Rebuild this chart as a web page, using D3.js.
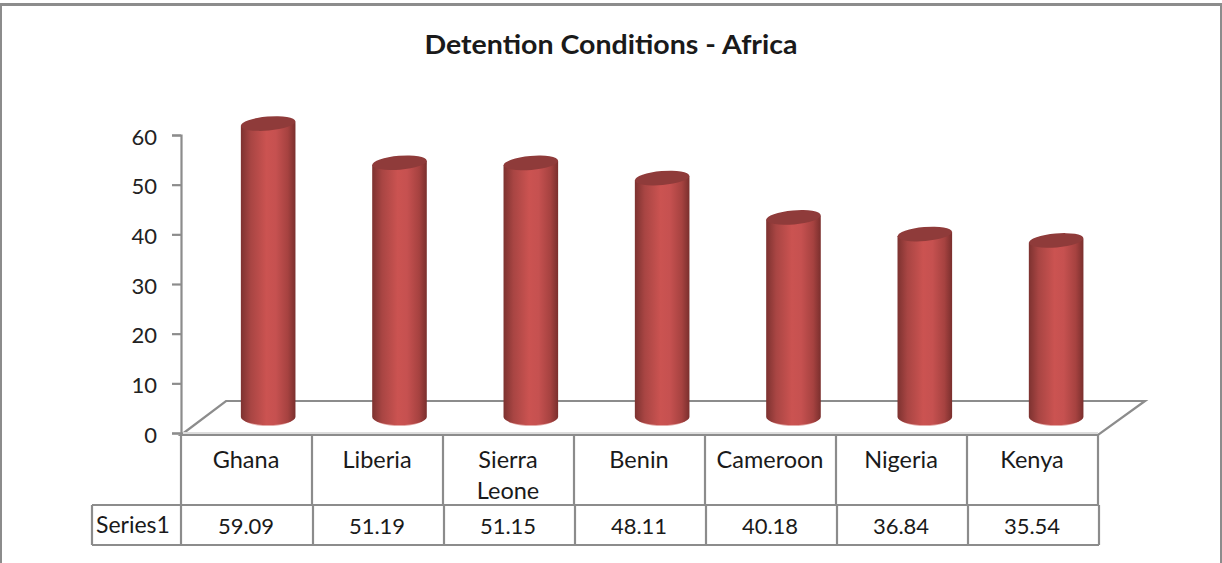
<!DOCTYPE html>
<html><head><meta charset="utf-8">
<script src="https://cdn.jsdelivr.net/npm/d3@7"></script>
<style>html,body{margin:0;padding:0;background:#fff}svg{display:block}text{font-family:Lato,"Open Sans",sans-serif;fill:#1a1a1a}</style>
</head><body><svg id="c" width="1222" height="563"></svg>
<script>
const categories=["Ghana","Liberia","Sierra Leone","Benin","Cameroon","Nigeria","Kenya"];
const categoryLines=[["Ghana"],["Liberia"],["Sierra","Leone"],["Benin"],["Cameroon"],["Nigeria"],["Kenya"]];
const values=[59.09,51.19,51.15,48.11,40.18,36.84,35.54];
const valueLabels=["59.09","51.19","51.15","48.11","40.18","36.84","35.54"];
const yTicks=[0,10,20,30,40,50,60];
const seriesName="Series1";
const titleText="Detention Conditions - Africa";

const grey="#8c8c8c";
const svg=d3.select("#c");
const defs=svg.append("defs");
const g=defs.append("linearGradient").attr("id","cyl");
[[0,"#7d3230"],[0.18,"#a84543"],[0.47,"#cb5351"],[0.64,"#c65150"],[0.86,"#a64240"],[1,"#7a2f2d"]]
 .forEach(d=>g.append("stop").attr("offset",d[0]).attr("stop-color",d[1]));

// frame
svg.append("rect").attr("x",0).attr("y",3).attr("width",1222).attr("height",3).attr("fill",grey);
svg.append("rect").attr("x",0).attr("y",3).attr("width",2).attr("height",560).attr("fill",grey);
svg.append("rect").attr("x",1220).attr("y",3).attr("width",2).attr("height",560).attr("fill",grey);

svg.append("text").attr("x",611).attr("y",54).attr("text-anchor","middle")
  .attr("font-size",27).attr("font-weight",700).attr("textLength",373).attr("lengthAdjust","spacingAndGlyphs").text(titleText);

const x=d3.scaleBand().domain(categories).range([181,1098]);
const xBar=d3.scaleBand().domain(categories).range([202.5,1121.8]);
const y=d3.scaleLinear().domain([0,60]).range([433,135]);

// floor
const dx=45, dy=34, floorY=435;
svg.append("path").attr("d",`M181,${floorY}L${181+dx},${floorY-dy}H1145L1098,${floorY}Z`)
  .attr("fill","#fff").attr("stroke",grey).attr("stroke-width",2.2);
svg.append("rect").attr("x",183).attr("y",floorY-3).attr("width",915).attr("height",2).attr("fill","#ddd");

// y axis
const ax=svg.append("g").attr("transform","translate(181,0)")
  .call(d3.axisLeft(y).tickValues(yTicks).tickSize(9).tickPadding(15).tickFormat(d3.format("d")));
ax.selectAll("path,line").attr("stroke",grey).attr("stroke-width",2.2);
ax.selectAll("text").attr("font-size",22).attr("font-family","Lato").attr("dy","0.42em").style("fill","#222");

// bars
const rx=27.3, ry=8, baseLift=16;
const cx=d=>xBar(d)+xBar.bandwidth()/2;
const bars=svg.append("g").selectAll("g").data(categories).join("g");
const base=y(0)-baseLift;
const barTop=(i)=>y(values[i])-baseLift;
bars.append("ellipse").attr("cx",cx).attr("cy",base+1).attr("rx",rx-2).attr("ry",ry).attr("fill","#e3a9a7");
bars.append("path").attr("d",(d,i)=>`M${cx(d)-rx},${barTop(i)+2}V${base}A${rx},${ry} 0 0 0 ${cx(d)+rx},${base}V${barTop(i)-2}Z`)
  .attr("fill","url(#cyl)");
bars.append("ellipse").attr("cx",0).attr("cy",0).attr("rx",rx).attr("ry",ry-1)
  .attr("transform",(d,i)=>`translate(${cx(d)},${barTop(i)}) rotate(-5)`).attr("fill","#8f3b3a");

// data table
const rowTop=435,rowMid=505,rowBot=545;
const T=svg.append("g").attr("stroke",grey).attr("stroke-width",2.2).attr("fill","none");
T.append("path").attr("d",`M181,${rowTop}H1098M92,${rowMid}H1099M92,${rowBot}H1099M92,${rowMid}V${rowBot}`);
const edges=[...categories.map(c=>x(c)),1098];
T.selectAll("line.a").data(edges).join("line").attr("class","a")
  .attr("x1",d=>d).attr("x2",d=>d).attr("y1",rowTop).attr("y2",rowMid);
T.selectAll("line.b").data(edges).join("line").attr("class","b")
  .attr("x1",(d,i)=>d+(i?1:0)).attr("x2",(d,i)=>d+(i?1:0)).attr("y1",rowMid).attr("y2",rowBot);

const tc=d=>x(d)+x.bandwidth()/2-0.5;
const labels=svg.append("g").selectAll("text").data(categories).join("text")
  .attr("text-anchor","middle").attr("font-size",23.5);
labels.each(function(d,i){
  d3.select(this).selectAll("tspan").data(categoryLines[i]).join("tspan")
    .attr("x",tc(d)).attr("y",(l,k)=>468+k*31).text(l=>l);
});
svg.append("g").selectAll("text").data(categories).join("text")
  .attr("x",tc).attr("y",534).attr("text-anchor","middle").attr("font-size",22)
  .text((d,i)=>valueLabels[i]);
svg.append("text").attr("x",96).attr("y",533).attr("font-size",23).text(seriesName);
</script></body></html>
